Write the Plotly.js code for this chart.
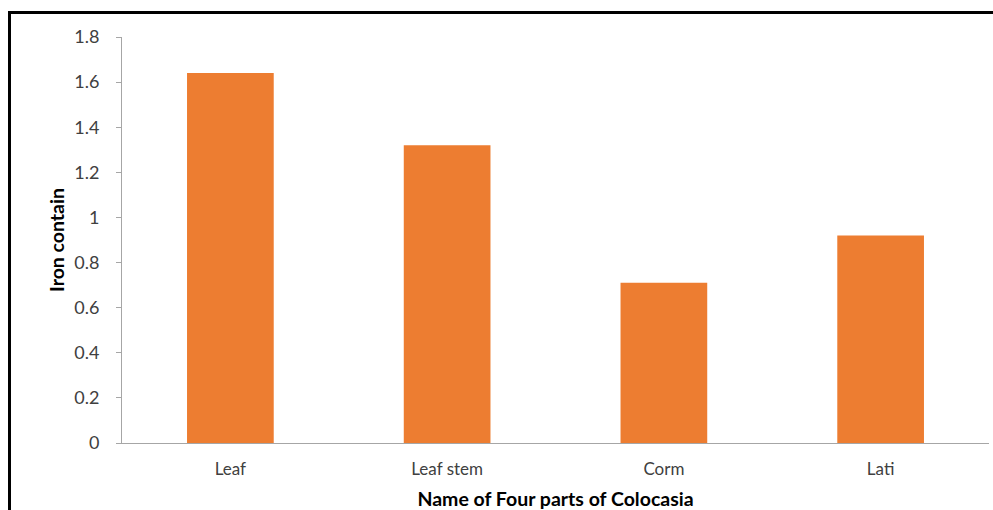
<!DOCTYPE html>
<html>
<head>
<meta charset="utf-8">
<script src="https://cdn.plot.ly/plotly-3.0.1.min.js"></script>
<style>
html,body{margin:0;padding:0;background:#fff;overflow:hidden;}
#wrap{position:relative;width:993px;height:510px;}
#chart{position:absolute;left:0;top:0;width:993px;height:510px;}
#frame{position:absolute;left:8px;top:11px;width:1000px;height:520px;border-top:3px solid #000;border-left:3px solid #000;pointer-events:none;}
</style>
</head>
<body>
<div id="wrap">
<div id="chart"></div>
<div id="frame"></div>
</div>
<script>
const categories = ["Leaf", "Leaf stem", "Corm", "Lati"];
const ironValues = [1.64, 1.32, 0.71, 0.92];
const yTicks = [0, 0.2, 0.4, 0.6, 0.8, 1, 1.2, 1.4, 1.6, 1.8];
const yTickLabels = ["0", "0.2", "0.4", "0.6", "0.8", "1", "1.2", "1.4", "1.6", "1.8"];

const font = "Lato, 'Open Sans', sans-serif";

Plotly.newPlot("chart", [{
  type: "bar",
  x: categories,
  y: ironValues,
  marker: {color: "#ED7D31"},
  width: 0.4,
  hoverinfo: "none"
}], {
  width: 993,
  height: 510,
  margin: {l: 122, r: 4, t: 37, b: 67},
  paper_bgcolor: "rgba(0,0,0,0)",
  plot_bgcolor: "rgba(0,0,0,0)",
  showlegend: false,
  font: {family: font, color: "#404040"},
  xaxis: {
    type: "category",
    showline: true,
    linecolor: "#a6a6a6",
    linewidth: 1,
    ticks: "",
    showgrid: false,
    zeroline: false,
    ticklabelstandoff: 11,
    tickfont: {size: 17, color: "#404040", family: font},
    title: {text: "Name of Four parts of Colocasia", font: {size: 19.5, color: "#000", family: font, weight: "bold"}, standoff: 15},
    fixedrange: true
  },
  yaxis: {
    range: [0, 1.8],
    tickvals: yTicks,
    ticktext: yTickLabels,
    showline: true,
    linecolor: "#a6a6a6",
    linewidth: 1,
    ticks: "outside",
    ticklen: 5,
    tickcolor: "#a6a6a6",
    ticklabelstandoff: 13,
    showgrid: false,
    zeroline: false,
    tickfont: {size: 18, color: "#404040", family: font},
    title: {text: "Iron contain", font: {size: 19.5, color: "#000", family: font, weight: "bold"}, standoff: 4},
    fixedrange: true
  }
}, {displayModeBar: false, staticPlot: true});
</script>
</body>
</html>
